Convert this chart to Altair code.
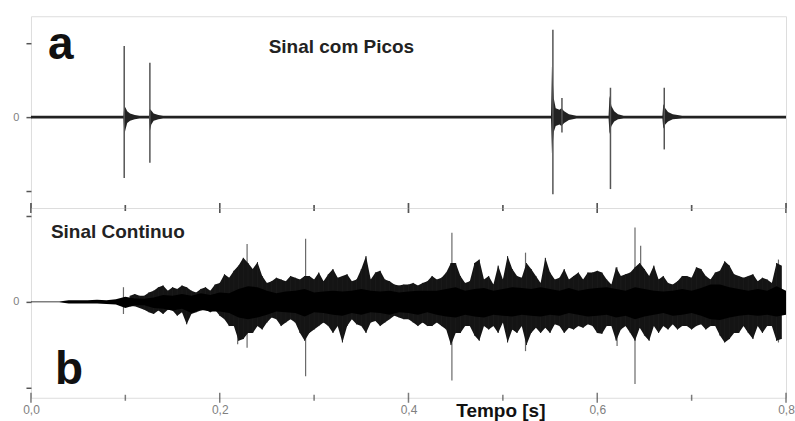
import altair as alt
import pandas as pd

# ---------------- data ----------------
# Panel a: "Sinal com Picos" – envelope of the baseline and of the decaying codas
top_env_t = [0.0, 0.098, 0.099, 0.1005, 0.102, 0.105, 0.11, 0.115, 0.125, 0.126, 0.1275, 0.13, 0.135, 0.14,
             0.551, 0.552, 0.554, 0.556, 0.56, 0.562, 0.565, 0.57, 0.578, 0.612, 0.613, 0.615, 0.618, 0.622,
             0.628, 0.669, 0.670, 0.672, 0.675, 0.68, 0.69, 0.8]
top_env_hi = [0.018, 0.018, 0.15, 0.12, 0.08, 0.05, 0.03, 0.018, 0.018, 0.11, 0.09, 0.05, 0.03, 0.018,
              0.018, 0.69, 0.25, 0.12, 0.10, 0.12, 0.08, 0.04, 0.018, 0.018, 0.29, 0.15, 0.08, 0.04,
              0.018, 0.018, 0.18, 0.12, 0.07, 0.04, 0.018, 0.018]
top_env_lo = [-0.018, -0.018, -0.23, -0.15, -0.08, -0.05, -0.03, -0.018, -0.018, -0.19, -0.10, -0.05, -0.03, -0.018,
              -0.018, -0.49, -0.20, -0.12, -0.10, -0.12, -0.08, -0.04, -0.018, -0.018, -0.23, -0.12, -0.06, -0.03,
              -0.018, -0.018, -0.16, -0.10, -0.06, -0.03, -0.018, -0.018]
# Panel a: peaks
top_spike_t = [0.0988, 0.126, 0.553, 0.5626, 0.614, 0.671]
top_spike_hi = [0.97, 0.74, 1.19, 0.26, 0.40, 0.40]
top_spike_lo = [-0.83, -0.62, -1.05, -0.21, -0.98, -0.44]

# Panel b: "Sinal Continuo" – solid core of the dense signal
bot_env_t = [0.00, 0.01, 0.02, 0.03, 0.04, 0.05, 0.06, 0.07, 0.08, 0.09,
             0.10, 0.11, 0.12, 0.13, 0.14, 0.15, 0.16, 0.17, 0.18, 0.19,
             0.20, 0.21, 0.22, 0.23, 0.24, 0.25, 0.26, 0.27, 0.28, 0.29,
             0.30, 0.31, 0.32, 0.33, 0.34, 0.35, 0.36, 0.37, 0.38, 0.39,
             0.40, 0.41, 0.42, 0.43, 0.44, 0.45, 0.46, 0.47, 0.48, 0.49,
             0.50, 0.51, 0.52, 0.53, 0.54, 0.55, 0.56, 0.57, 0.58, 0.59,
             0.60, 0.61, 0.62, 0.63, 0.64, 0.65, 0.66, 0.67, 0.68, 0.69,
             0.70, 0.71, 0.72, 0.73, 0.74, 0.75, 0.76, 0.77, 0.78, 0.79, 0.80]
bot_env_hi = [0.005, 0.005, 0.005, 0.005, 0.02, 0.02, 0.02, 0.025, 0.02, 0.03,
              0.06, 0.04, 0.035, 0.05, 0.08, 0.07, 0.09, 0.07, 0.10, 0.08,
              0.11, 0.10, 0.15, 0.18, 0.17, 0.13, 0.10, 0.12, 0.13, 0.15,
              0.11, 0.12, 0.13, 0.12, 0.13, 0.15, 0.13, 0.12, 0.13, 0.11,
              0.12, 0.13, 0.13, 0.13, 0.15, 0.17, 0.13, 0.15, 0.16, 0.13,
              0.15, 0.17, 0.16, 0.15, 0.17, 0.15, 0.13, 0.16, 0.13, 0.15,
              0.16, 0.17, 0.15, 0.13, 0.17, 0.15, 0.13, 0.12, 0.13, 0.15,
              0.13, 0.16, 0.20, 0.20, 0.17, 0.15, 0.13, 0.15, 0.13, 0.18, 0.13]
bot_env_lo = [-0.005, -0.005, -0.005, -0.005, -0.02, -0.02, -0.02, -0.02, -0.025, -0.03,
              -0.07, -0.04, -0.04, -0.07, -0.08, -0.10, -0.08, -0.13, -0.09, -0.11,
              -0.11, -0.13, -0.18, -0.20, -0.18, -0.15, -0.11, -0.12, -0.13, -0.17,
              -0.12, -0.13, -0.15, -0.16, -0.13, -0.15, -0.12, -0.13, -0.15, -0.12,
              -0.13, -0.15, -0.12, -0.15, -0.17, -0.18, -0.15, -0.17, -0.18, -0.15,
              -0.16, -0.17, -0.15, -0.16, -0.17, -0.15, -0.16, -0.13, -0.15, -0.17,
              -0.16, -0.15, -0.18, -0.16, -0.20, -0.17, -0.15, -0.13, -0.16, -0.15,
              -0.13, -0.16, -0.20, -0.21, -0.18, -0.16, -0.15, -0.16, -0.15, -0.17, -0.15]

# Panel b: dark fringe around the core, read every ~5 px
fr_t = [0.105, 0.110, 0.115, 0.120, 0.125, 0.130, 0.135, 0.140, 0.145, 0.150,
        0.155, 0.160, 0.165, 0.170, 0.175, 0.180, 0.185, 0.190, 0.195, 0.200,
        0.205, 0.210, 0.215, 0.220, 0.225, 0.230, 0.235, 0.240, 0.245, 0.250,
        0.255, 0.260, 0.265, 0.270, 0.275, 0.280, 0.285, 0.290, 0.295, 0.300,
        0.305, 0.310, 0.315, 0.320, 0.325, 0.330, 0.335, 0.340, 0.345, 0.350,
        0.355, 0.360, 0.365, 0.370, 0.375, 0.380, 0.385, 0.390, 0.395, 0.400,
        0.405, 0.410, 0.415, 0.420, 0.425, 0.430, 0.435, 0.440, 0.445, 0.450,
        0.455, 0.460, 0.465, 0.470, 0.475, 0.480, 0.485, 0.490, 0.495, 0.500,
        0.505, 0.510, 0.515, 0.520, 0.525, 0.530, 0.535, 0.540, 0.545, 0.550,
        0.555, 0.560, 0.565, 0.570, 0.575, 0.580, 0.585, 0.590, 0.595, 0.600,
        0.605, 0.610, 0.615, 0.620, 0.625, 0.630, 0.635, 0.640, 0.645, 0.650,
        0.655, 0.660, 0.665, 0.670, 0.675, 0.680, 0.685, 0.690, 0.695, 0.700,
        0.705, 0.710, 0.715, 0.720, 0.725, 0.730, 0.735, 0.740, 0.745, 0.750,
        0.755, 0.760, 0.765, 0.770, 0.775, 0.780, 0.785, 0.790, 0.795]
fr_hi = [0.07, 0.09, 0.07, 0.07, 0.11, 0.13, 0.17, 0.19, 0.13, 0.17,
         0.15, 0.19, 0.17, 0.13, 0.11, 0.15, 0.17, 0.13, 0.20, 0.22,
         0.32, 0.28, 0.36, 0.42, 0.51, 0.45, 0.38, 0.46, 0.30, 0.22,
         0.24, 0.28, 0.26, 0.24, 0.30, 0.28, 0.26, 0.30, 0.30, 0.26,
         0.34, 0.24, 0.32, 0.38, 0.28, 0.30, 0.32, 0.24, 0.26, 0.38,
         0.53, 0.26, 0.34, 0.36, 0.26, 0.24, 0.20, 0.19, 0.20, 0.20,
         0.22, 0.19, 0.22, 0.24, 0.30, 0.26, 0.28, 0.34, 0.45, 0.45,
         0.30, 0.22, 0.24, 0.45, 0.49, 0.26, 0.30, 0.20, 0.42, 0.26,
         0.53, 0.38, 0.30, 0.28, 0.45, 0.38, 0.30, 0.22, 0.51, 0.34,
         0.26, 0.28, 0.38, 0.26, 0.30, 0.34, 0.26, 0.34, 0.34, 0.36,
         0.34, 0.26, 0.20, 0.40, 0.30, 0.32, 0.34, 0.40, 0.45, 0.38,
         0.30, 0.42, 0.26, 0.30, 0.22, 0.20, 0.24, 0.30, 0.30, 0.28,
         0.40, 0.38, 0.30, 0.26, 0.34, 0.36, 0.47, 0.42, 0.32, 0.30,
         0.28, 0.30, 0.32, 0.24, 0.28, 0.26, 0.22, 0.45, 0.42]
fr_lo = [-0.05, -0.05, -0.07, -0.09, -0.12, -0.14, -0.10, -0.14, -0.09, -0.10,
         -0.16, -0.12, -0.26, -0.14, -0.12, -0.10, -0.09, -0.12, -0.09, -0.16,
         -0.20, -0.28, -0.28, -0.45, -0.43, -0.36, -0.36, -0.28, -0.32, -0.24,
         -0.18, -0.20, -0.28, -0.24, -0.20, -0.24, -0.36, -0.45, -0.36, -0.32,
         -0.28, -0.24, -0.28, -0.36, -0.28, -0.47, -0.28, -0.20, -0.26, -0.28,
         -0.36, -0.24, -0.22, -0.28, -0.24, -0.20, -0.16, -0.18, -0.20, -0.20,
         -0.24, -0.28, -0.24, -0.28, -0.28, -0.24, -0.28, -0.32, -0.50, -0.36,
         -0.36, -0.28, -0.28, -0.39, -0.45, -0.28, -0.32, -0.28, -0.36, -0.24,
         -0.47, -0.32, -0.36, -0.28, -0.50, -0.36, -0.30, -0.36, -0.30, -0.36,
         -0.26, -0.28, -0.36, -0.30, -0.32, -0.28, -0.30, -0.26, -0.28, -0.36,
         -0.37, -0.28, -0.28, -0.45, -0.32, -0.28, -0.36, -0.45, -0.30, -0.39,
         -0.45, -0.28, -0.36, -0.28, -0.32, -0.26, -0.32, -0.28, -0.28, -0.32,
         -0.28, -0.26, -0.32, -0.28, -0.28, -0.39, -0.47, -0.43, -0.36, -0.36,
         -0.28, -0.36, -0.43, -0.28, -0.36, -0.28, -0.28, -0.45, -0.43]

# Panel b: thin tall excursions
bot_spike_t = [0.098, 0.219, 0.229, 0.291, 0.446, 0.524, 0.621, 0.640, 0.646, 0.792]
bot_spike_hi = [0.17, 0.40, 0.67, 0.73, 0.80, 0.57, 0.40, 0.86, 0.65, 0.49]
bot_spike_lo = [-0.14, -0.49, -0.53, -0.86, -0.91, -0.57, -0.51, -0.95, -0.30, -0.47]

major_ticks = [0.0, 0.2, 0.4, 0.6, 0.8]
minor_ticks = [0.1, 0.3, 0.5, 0.7]
y_ticks = [-1, 0, 1]

# ---------------- chart ----------------
W, H1, H2 = 756, 192, 190
FONT = "Liberation Sans"

x_scale = alt.Scale(domain=[0, 0.8], nice=False, zero=False)
y_top_scale = alt.Scale(domain=[-1.238, 1.374], nice=False, zero=False)
y_bot_scale = alt.Scale(domain=[-1.11, 1.087], nice=False, zero=False)

x_axis_bot = alt.Axis(
    title="Tempo [s]", values=major_ticks,
    labelExpr="replace(format(datum.value, '.1f'), '.', ',')",
    ticks=False, domain=False, grid=False, labelFlush=False,
    labelPadding=7, labelColor="#808080", labelFontSize=12, labelFont=FONT,
    titleX=470, titleY=19, titleAlign="center", titleBaseline="alphabetic",
    titleFontSize=19, titleFontWeight="bold", titleColor="#111111", titleFont=FONT,
)
y_axis = alt.Axis(
    title=None, values=y_ticks, labelExpr="datum.value == 0 ? '0' : ''",
    tickSize=5, tickColor="#555555", tickWidth=1.5, domain=False, grid=False,
    labelColor="#808080", labelFontSize=11, labelPadding=7, labelFont=FONT,
)

top_env = pd.DataFrame({"t": top_env_t, "hi": top_env_hi, "lo": top_env_lo})
top_spk = pd.DataFrame({"t": top_spike_t, "hi": top_spike_hi, "lo": top_spike_lo})
bot_env = pd.DataFrame({"t": bot_env_t, "hi": bot_env_hi, "lo": bot_env_lo})
bot_fr = pd.DataFrame({"t": fr_t, "hi": fr_hi, "lo": fr_lo})
bot_spk = pd.DataFrame({"t": bot_spike_t, "hi": bot_spike_hi, "lo": bot_spike_lo})
maj = pd.DataFrame({"t": major_ticks})
mnr = pd.DataFrame({"t": minor_ticks})
one = alt.Data(values=[{}])


def tick_layers(y_px):
    a = alt.Chart(maj).mark_tick(color="#444444", thickness=1.5, size=10).encode(
        x=alt.X("t:Q", scale=x_scale), y=alt.value(y_px))
    b = alt.Chart(mnr).mark_tick(color="#444444", thickness=1.5, size=6).encode(
        x=alt.X("t:Q", scale=x_scale), y=alt.value(y_px))
    return [a, b]


def label(txt, x, y, size, color="#111111", baseline="alphabetic"):
    return alt.Chart(one).mark_text(
        text=txt, font=FONT, fontSize=size, fontWeight="bold", color=color,
        align="left", baseline=baseline).encode(x=alt.value(x), y=alt.value(y))


top_area = alt.Chart(top_env).mark_area(color="#222222").encode(
    x=alt.X("t:Q", scale=x_scale, axis=None),
    y=alt.Y("hi:Q", scale=y_top_scale, axis=y_axis),
    y2="lo:Q",
)
top_rules = alt.Chart(top_spk).mark_rule(color="#555555", strokeWidth=1.5).encode(
    x=alt.X("t:Q", scale=x_scale), y=alt.Y("hi:Q", scale=y_top_scale), y2="lo:Q")

top = alt.layer(
    top_area, top_rules, *tick_layers(H1),
    label("a", 17, 43, 46),
    label("Sinal com Picos", 238, 31, 19, color="#222222", baseline="middle"),
).properties(width=W, height=H1)

bot_spikes = alt.Chart(bot_spk).mark_rule(color="#6a6a6a", strokeWidth=1.2).encode(
    x=alt.X("t:Q", scale=x_scale, axis=x_axis_bot),
    y=alt.Y("hi:Q", scale=y_bot_scale, axis=y_axis), y2="lo:Q")
bot_fringe = alt.Chart(bot_fr).mark_area(color="#141414").encode(
    x=alt.X("t:Q", scale=x_scale), y=alt.Y("hi:Q", scale=y_bot_scale), y2="lo:Q")
bot_fringe_lines = alt.Chart(bot_fr).mark_rule(color="#1a1a1a", strokeWidth=1).encode(
    x=alt.X("t:Q", scale=x_scale), y=alt.Y("hi:Q", scale=y_bot_scale), y2="lo:Q")
bot_area = alt.Chart(bot_env).mark_area(color="#000000").encode(
    x=alt.X("t:Q", scale=x_scale), y=alt.Y("hi:Q", scale=y_bot_scale), y2="lo:Q")

bottom = alt.layer(
    bot_spikes, bot_fringe, bot_fringe_lines, bot_area, *tick_layers(0), *tick_layers(H2),
    label("b", 24, 176, 46),
    label("Sinal Continuo", 20, 24, 19, color="#222222", baseline="middle"),
).properties(width=W, height=H2)

chart = alt.vconcat(top, bottom, spacing=0, bounds="flush").properties(
    padding={"left": 12, "top": 15, "right": 0, "bottom": 0}
).configure_view(stroke="#555555", strokeWidth=2).configure(background="white")

chart.save("out.html", embed_options={"renderer": "svg", "actions": False})
